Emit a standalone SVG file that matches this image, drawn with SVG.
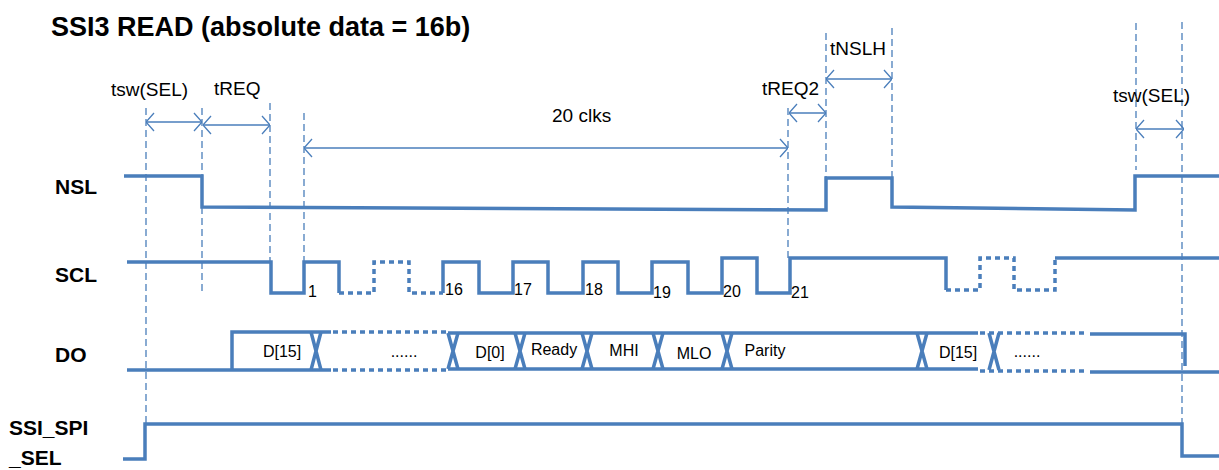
<svg xmlns="http://www.w3.org/2000/svg" width="1219" height="470" viewBox="0 0 1219 470">
<style>
.sig{fill:none;stroke:#4a7ebb;stroke-width:3.5;stroke-linejoin:miter}
.dot{fill:none;stroke:#4a7ebb;stroke-width:3.5;stroke-dasharray:5 4}
.guide{fill:none;stroke:#4a7ebb;stroke-width:1.3;stroke-dasharray:7 4}
.arr{fill:none;stroke:#4a7ebb;stroke-width:1.3;marker-start:url(#ah);marker-end:url(#ah)}
.t{font-family:"Liberation Sans",Arial,sans-serif;fill:#000}
.name{font-size:21px;font-weight:bold}
.lbl{font-size:19px}
.d{font-size:16px;text-anchor:middle}
.n{font-size:16px}
</style>
<defs>
<marker id="ah" viewBox="0 0 10 20" refX="10" refY="10" markerWidth="10" markerHeight="20" markerUnits="userSpaceOnUse" orient="auto-start-reverse">
<path d="M2,1 L10,10 L2,19" fill="none" stroke="#4a7ebb" stroke-width="1.3"/>
</marker>
</defs>
<rect width="1219" height="470" fill="#fff"/>
<text id="title" class="t" x="51" y="36" font-size="27" font-weight="bold">SSI3 READ (absolute data = 16b)</text>
<g id="names">
<text class="t name" x="55" y="194">NSL</text>
<text class="t name" x="55" y="282">SCL</text>
<text class="t name" x="55" y="362">DO</text>
<text class="t name" x="9" y="435">SSI_SPI</text>
<text class="t name" x="9" y="465">_SEL</text>
</g>
<g id="connectors">
<g id="guides">
<line class="guide" x1="146" y1="108" x2="146" y2="424"/>
<line class="guide" x1="202" y1="108" x2="202" y2="294"/>
<line class="guide" x1="270" y1="103" x2="270" y2="262"/>
<line class="guide" x1="304" y1="113" x2="304" y2="262"/>
<line class="guide" x1="788" y1="108" x2="788" y2="258"/>
<line class="guide" x1="826" y1="33" x2="826" y2="178"/>
<line class="guide" x1="892" y1="28" x2="892" y2="178"/>
<line class="guide" x1="1136" y1="23" x2="1136" y2="170"/>
<line class="guide" x1="1182" y1="22" x2="1182" y2="456"/>
</g>
<g id="measures">
<line class="arr" x1="146" y1="122" x2="202" y2="122"/>
<line class="arr" x1="203" y1="125" x2="270" y2="125"/>
<line class="arr" x1="304" y1="148" x2="788" y2="148"/>
<line class="arr" x1="789" y1="113" x2="826" y2="113"/>
<line class="arr" x1="826" y1="79" x2="892" y2="79"/>
<line class="arr" x1="1136" y1="129" x2="1184" y2="129"/>
</g>
</g>
<g id="measure-labels">
<text class="t lbl" x="111" y="96">tsw(SEL)</text>
<text class="t lbl" x="214" y="95">tREQ</text>
<text class="t lbl" x="552" y="122">20 clks</text>
<text class="t lbl" x="762" y="95">tREQ2</text>
<text class="t lbl" x="830" y="55">tNSLH</text>
<text class="t lbl" x="1113" y="102">tsw(SEL)</text>
</g>
<g id="NSL">
<polyline class="sig" points="124,176 202,176 202,207 826,210 826,178 892,178 892,207 1135,210 1135,176 1219,176"/>
</g>
<g id="SCL">
<path class="sig" d="M127,262 H271 V293 H304 V262 H339 V293"/>
<path class="dot" d="M339,293 H374 V262 H409 V293 H443"/>
<path class="sig" d="M443,293 V262 H479 V293 H513 V262 H548 V293 H583 V262 H618 V293 H652 V262 H688 V293 H722 V258 H757 V293 H790 V258 H946 V290"/>
<path class="dot" d="M946,290 H980 V258 H1014 V290 H1055 V258"/>
<path class="sig" d="M1055,258 H1219"/>
<text class="t n" x="308" y="297">1</text>
<text class="t n" x="445" y="295">16</text>
<text class="t n" x="514" y="295">17</text>
<text class="t n" x="585" y="295">18</text>
<text class="t n" x="653" y="298">19</text>
<text class="t n" x="723" y="297">20</text>
<text class="t n" x="791" y="298">21</text>
</g>
<g id="DO">
<path class="sig" d="M127,370 H232 V332 H331 M232,370 H331"/>
<path class="dot" d="M333,332 H448 M333,370 H448"/>
<path class="sig" d="M448,333 H978 M448,369 H978"/>
<path class="dot" d="M980,333 H1088 M980,371 H1088"/>
<path class="sig" d="M1090,334 H1185 V366 M1090,372 H1219"/>
<g class="sig">
<path d="M311,332 L321,370 M321,332 L311,370"/>
<path d="M448,333 L458,369 M458,333 L448,369"/>
<path d="M515,333 L525,369 M525,333 L515,369"/>
<path d="M582,333 L592,369 M592,333 L582,369"/>
<path d="M653,333 L663,369 M663,333 L653,369"/>
<path d="M722,333 L732,369 M732,333 L722,369"/>
<path d="M917,333 L927,369 M927,333 L917,369"/>
<path d="M989,333 L999,370 M999,333 L989,370"/>
</g>
<text class="t d" x="282" y="357">D[15]</text>
<text class="t d" x="404" y="357" font-size="14">......</text>
<text class="t d" x="490" y="358">D[0]</text>
<text class="t d" x="554" y="355">Ready</text>
<text class="t d" x="624" y="356">MHI</text>
<text class="t d" x="694" y="359">MLO</text>
<text class="t d" x="765" y="356">Parity</text>
<text class="t d" x="958" y="358">D[15]</text>
<text class="t d" x="1027" y="357" font-size="14">......</text>
</g>
<g id="SSI_SPI_SEL">
<polyline class="sig" points="123,459 145,459 145,424 1182,424 1182,456 1219,456"/>
</g>
</svg>
